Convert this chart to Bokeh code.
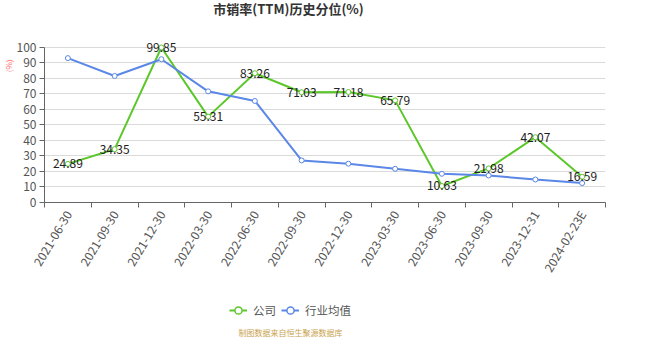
import math
from bokeh.plotting import figure
from bokeh.layouts import column
from bokeh.models import (ColumnDataSource, Range1d, FixedTicker, LabelSet, Label, Title,
                          Legend, LegendItem)
from bokeh.core.properties import value
from bokeh.embed import file_html
from bokeh.resources import INLINE

dates = ["2021-06-30", "2021-09-30", "2021-12-30", "2022-03-30", "2022-06-30",
         "2022-09-30", "2022-12-30", "2023-03-30", "2023-06-30", "2023-09-30",
         "2023-12-31", "2024-02-23E"]
company = [24.89, 34.35, 99.85, 55.31, 83.26, 71.03, 71.18, 65.79, 10.63, 21.98, 42.07, 16.59]
industry = [93.0, 81.5, 92.3, 71.6, 65.4, 27.1, 25.0, 21.7, 18.5, 17.4, 14.8, 12.5]
y_ticks = [0, 10, 20, 30, 40, 50, 60, 70, 80, 90, 100]
series_names = ["公司", "行业均值"]
title_text = "市销率(TTM)历史分位(%)"
unit_text = "(%)"
source_text = "制图数据来自恒生聚源数据库"

FONT = "Noto Sans CJK SC"
GREEN = "#5cc72a"
BLUE = "#5b87e6"
W = 669


def blank(h):
    # header/footer strip; its frame is aligned with the main chart's frame by the column
    f = figure(width=W, height=h, output_backend="svg", toolbar_location=None,
               x_range=Range1d(1000, 2000), y_range=Range1d(1000, 2000),
               x_axis_type=None, y_axis_type=None, min_border=0)
    f.outline_line_color = None
    f.grid.grid_line_color = None
    return f


pos = [i + 0.5 for i in range(len(dates))]
src = ColumnDataSource(dict(x=pos, c=company, ind=industry,
                            lab=[f"{v:.2f}" for v in company]))

# ---- header with title
top = blank(30)
top.add_layout(Label(x=244, y=22, x_units="screen", y_units="screen", text=title_text,
                     text_align="center", text_baseline="middle", text_font=FONT,
                     text_font_size="13px", text_font_style="bold", text_color="#333333"))

# ---- main chart
p = figure(width=W, height=255, output_backend="svg", toolbar_location=None,
           x_range=Range1d(0, len(dates)), y_range=Range1d(0, 105),
           min_border_left=43, min_border_right=64, min_border_top=9,
           min_border_bottom=83)
p.outline_line_color = None
p.background_fill_color = "white"

p.xaxis.ticker = FixedTicker(ticks=pos, minor_ticks=list(range(len(dates) + 1)))
p.xaxis.major_label_overrides = {x: d for x, d in zip(pos, dates)}
p.xaxis.major_tick_out = 0
p.xaxis.major_tick_in = 0
p.xaxis.minor_tick_out = 5
p.xaxis.minor_tick_in = 0
p.xaxis.minor_tick_line_color = "#666666"
p.xaxis.axis_line_color = "#666666"
p.xaxis.major_label_orientation = math.radians(59)
p.xaxis.major_label_text_font = FONT
p.xaxis.major_label_text_font_size = "12px"
p.xaxis.major_label_text_color = "#555555"
p.xaxis.major_label_standoff = 4

p.yaxis.ticker = FixedTicker(ticks=y_ticks)
p.yaxis.bounds = (0, 100)
p.yaxis.minor_tick_line_color = None
p.yaxis.major_tick_out = 5
p.yaxis.major_tick_in = 0
p.yaxis.axis_line_color = "#666666"
p.yaxis.major_tick_line_color = "#666666"
p.yaxis.major_label_text_font = FONT
p.yaxis.major_label_text_font_size = "12px"
p.yaxis.major_label_text_color = "#555555"
p.yaxis.major_label_standoff = 3

p.xgrid.grid_line_color = None
p.ygrid.grid_line_color = "#dadada"
p.ygrid.ticker = FixedTicker(ticks=y_ticks)

p.add_layout(Title(text=unit_text, align="right", offset=20, standoff=0,
                   text_font=FONT, text_font_size="8px", text_font_style="normal",
                   text_color="#ff6666"), "left")

p.line("x", "c", source=src, line_color=GREEN, line_width=2)
p.scatter("x", "c", source=src, size=5, line_color=GREEN, fill_color="white", line_width=1)
p.line("x", "ind", source=src, line_color=BLUE, line_width=2)
p.scatter("x", "ind", source=src, size=5, line_color=BLUE, fill_color="white", line_width=1)

p.add_layout(LabelSet(x="x", y="c", text="lab", source=src, text_align="center",
                      text_baseline="middle", text_font=value(FONT), text_font_size="12px",
                      text_color="#222222"))

# ---- footer with legend and source note (legend renderers lie outside this strip's view)
bot = blank(70)
items = []
for name, col, field in zip(series_names, [GREEN, BLUE], ["c", "ind"]):
    r1 = bot.line("x", field, source=src, line_color=col, line_width=2)
    r2 = bot.scatter("x", field, source=src, size=9, line_color=col, fill_color="white",
                     line_width=1.5)
    items.append(LegendItem(label=name, renderers=[r1, r2]))
legend = Legend(items=items, location=(185, 35), orientation="horizontal",
                border_line_color=None, background_fill_alpha=0,
                label_text_font=FONT, label_text_font_size="11.5px",
                label_text_color="#555555", glyph_width=18, glyph_height=20,
                spacing=5, label_standoff=6, padding=0, margin=0)
bot.add_layout(legend)
bot.add_layout(Label(x=246, y=23, x_units="screen", y_units="screen", text=source_text,
                     text_align="center", text_baseline="middle", text_font=FONT,
                     text_font_size="8px", text_color="#c9a34e"))

layout = column(top, p, bot, spacing=0)
open("out.html", "w").write(file_html(layout, INLINE))
